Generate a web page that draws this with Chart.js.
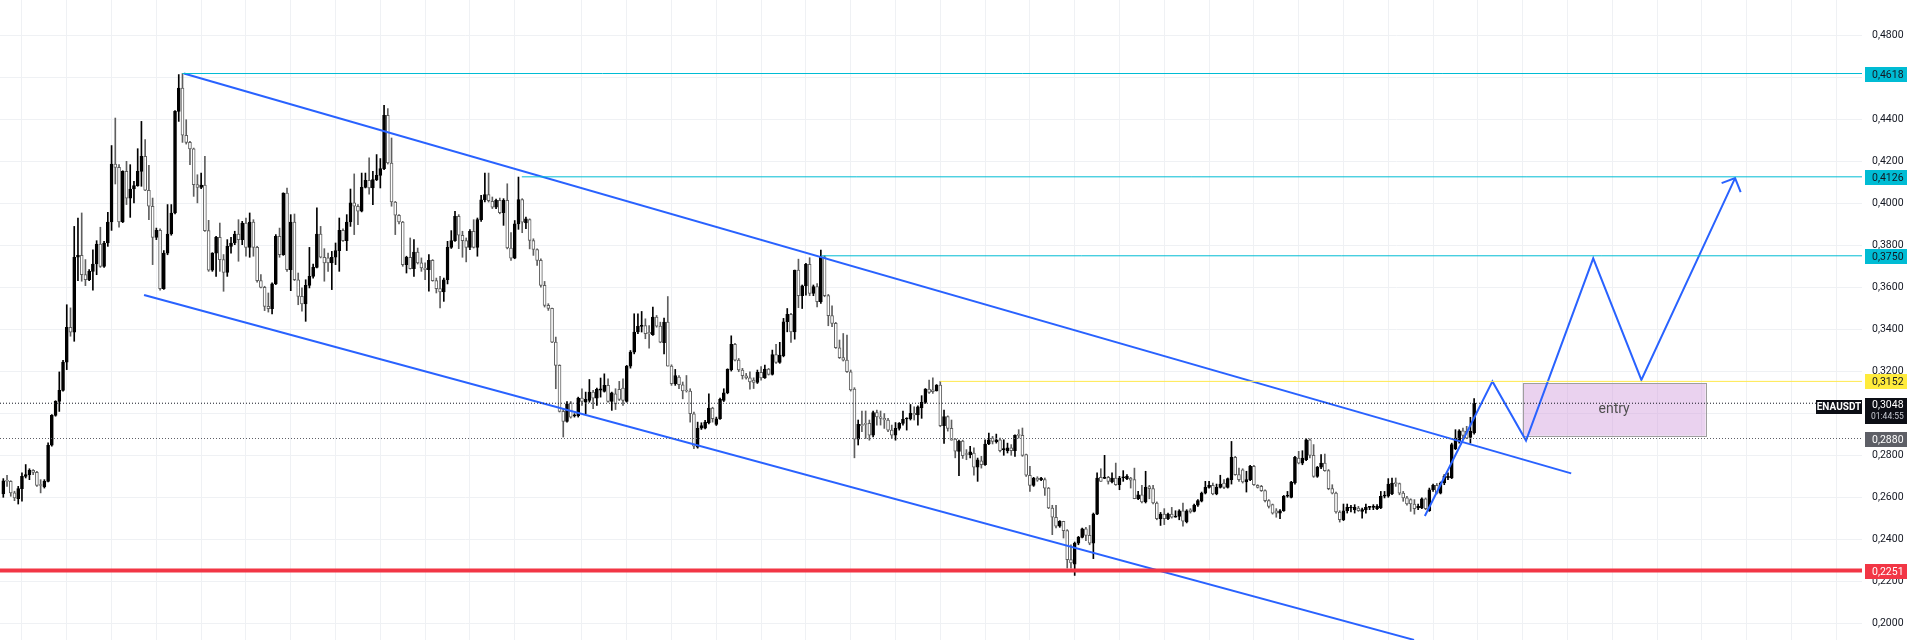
<!DOCTYPE html>
<html>
<head>
<meta charset="utf-8">
<title>ENAUSDT</title>
<script src="https://cdn.jsdelivr.net/npm/chart.js@4.4.1/dist/chart.umd.min.js"></script>
<style>
    html, body { margin: 0; padding: 0; background: #ffffff; }
    #chart { display: block; }
</style>
</head>
<body>
<canvas id="chart" width="1920" height="640"></canvas>
<script>
// Candle data (candle number 1..395, left to right)
const opens = [
    0.2616,0.2679,0.2676,0.2621,0.2594,0.2641,0.2700,0.2708,0.2729,0.2719,
    0.2660,0.2649,0.2676,0.2848,0.2990,0.3057,0.3109,0.3244,0.3409,0.3386,
    0.3743,0.3752,0.3660,0.3636,0.3676,0.3711,0.3806,0.3700,0.3811,0.3911,
    0.4187,0.4171,0.3911,0.4152,0.4025,0.4068,0.4084,0.4152,0.4224,0.4062,
    0.3986,0.3838,0.3871,0.3594,0.3763,0.3854,0.3954,0.4438,0.4549,0.4324,
    0.4290,0.4259,0.4089,0.4076,0.4087,0.3870,0.3681,0.3763,0.3838,0.3732,
    0.3671,0.3795,0.3811,0.3854,0.3827,0.3906,0.3790,0.3911,0.3790,0.3632,
    0.3600,0.3509,0.3498,0.3616,0.3843,0.3755,0.4049,0.3684,0.3911,0.3636,
    0.3557,0.3521,0.3609,0.3652,0.3695,0.3854,0.3743,0.3740,0.3716,0.3743,
    0.3775,0.3871,0.3822,0.3911,0.4002,0.3986,0.3962,0.4076,0.4109,0.4073,
    0.4113,0.4133,0.4165,0.4419,0.4192,0.4006,0.3943,0.3911,0.3708,0.3743,
    0.3689,0.3768,0.3716,0.3692,0.3684,0.3729,0.3632,0.3594,0.3578,0.3636,
    0.3790,0.3822,0.3938,0.3848,0.3822,0.3790,0.3867,0.3790,0.3922,0.4017,
    0.4041,0.4009,0.3982,0.4014,0.3955,0.4014,0.3787,0.3739,0.3902,0.4018,
    0.3907,0.3923,0.3823,0.3780,0.3728,0.3609,0.3514,0.3500,0.3339,0.3228,
    0.3009,0.2961,0.3050,0.2987,0.2987,0.3072,0.3053,0.3061,0.3101,0.3072,
    0.3110,0.3104,0.3133,0.3056,0.3093,0.3114,0.3120,0.3056,0.3225,0.3291,
    0.3387,0.3414,0.3418,0.3385,0.3374,0.3458,0.3415,0.3336,0.3434,0.3225,
    0.3141,0.3172,0.3136,0.3109,0.3106,0.2998,0.2839,0.2929,0.2929,0.2955,
    0.3025,0.2947,0.2974,0.3061,0.3098,0.3206,0.3328,0.3253,0.3206,0.3179,
    0.3169,0.3158,0.3147,0.3195,0.3169,0.3211,0.3185,0.3280,0.3242,0.3274,
    0.3436,0.3471,0.3388,0.3682,0.3560,0.3607,0.3709,0.3571,0.3603,0.3531,
    0.3745,0.3560,0.3465,0.3428,0.3312,0.3265,0.3253,0.3198,0.3115,0.2877,
    0.2947,0.2949,0.2952,0.2896,0.3004,0.2983,0.2976,0.2968,0.2920,0.2896,
    0.2928,0.2952,0.2973,0.2973,0.3000,0.2992,0.3026,0.3052,0.3115,0.3112,
    0.3106,0.3134,0.2941,0.2984,0.2928,0.2877,0.2818,0.2868,0.2806,0.2803,
    0.2811,0.2743,0.2774,0.2755,0.2854,0.2882,0.2865,0.2874,0.2827,0.2822,
    0.2835,0.2822,0.2896,0.2895,0.2803,0.2705,0.2657,0.2692,0.2684,0.2684,
    0.2644,0.2549,0.2505,0.2462,0.2485,0.2441,0.2303,0.2282,0.2382,0.2409,
    0.2450,0.2419,0.2382,0.2520,0.2695,0.2690,0.2695,0.2673,0.2692,0.2660,
    0.2693,0.2689,0.2692,0.2684,0.2593,0.2612,0.2578,0.2651,0.2641,0.2573,
    0.2498,0.2520,0.2498,0.2520,0.2505,0.2509,0.2536,0.2483,0.2540,0.2533,
    0.2562,0.2581,0.2620,0.2647,0.2657,0.2616,0.2647,0.2668,0.2647,0.2684,
    0.2790,0.2708,0.2731,0.2673,0.2684,0.2747,0.2657,0.2652,0.2632,0.2584,
    0.2565,0.2536,0.2525,0.2536,0.2605,0.2600,0.2668,0.2787,0.2763,0.2779,
    0.2874,0.2800,0.2700,0.2743,0.2763,0.2727,0.2641,0.2620,0.2530,0.2493,
    0.2536,0.2549,0.2541,0.2549,0.2533,0.2541,0.2552,0.2552,0.2546,0.2549,
    0.2605,0.2605,0.2616,0.2668,0.2665,0.2620,0.2597,0.2589,0.2568,0.2549,
    0.2549,0.2593,0.2536,0.2636,0.2657,0.2620,0.2668,0.2692,0.2692,0.2832,
    0.2866,0.2917,0.2914,0.2885,0.2906
];
const highs = [
    0.2689,0.2705,0.2679,0.2629,0.2652,0.2716,0.2756,0.2736,0.2732,0.2724,
    0.2684,0.2684,0.2859,0.2994,0.3060,0.3197,0.3252,0.3517,0.3502,0.3890,
    0.3930,0.3954,0.3732,0.3684,0.3779,0.3822,0.3886,0.3819,0.3957,0.4275,
    0.4406,0.4184,0.4155,0.4200,0.4184,0.4105,0.4260,0.4390,0.4303,0.4181,
    0.4025,0.3882,0.3879,0.3775,0.3994,0.3994,0.4441,0.4613,0.4618,0.4398,
    0.4295,0.4263,0.4136,0.4144,0.4224,0.3919,0.3765,0.3843,0.3906,0.3756,
    0.3827,0.3838,0.3867,0.3922,0.3914,0.3930,0.3954,0.3922,0.3795,0.3660,
    0.3605,0.3573,0.3621,0.3851,0.3882,0.4050,0.4073,0.3946,0.3949,0.3668,
    0.3597,0.3636,0.3790,0.3711,0.3978,0.3890,0.3784,0.3763,0.3771,0.3811,
    0.3930,0.3878,0.3946,0.4068,0.4140,0.3994,0.4144,0.4144,0.4216,0.4152,
    0.4232,0.4213,0.4467,0.4451,0.4311,0.4009,0.3946,0.3914,0.3748,0.3835,
    0.3827,0.3787,0.3740,0.3716,0.3756,0.3732,0.3644,0.3652,0.3644,0.3819,
    0.3870,0.3962,0.3946,0.3867,0.3835,0.3875,0.3922,0.3930,0.4038,0.4144,
    0.4144,0.4030,0.4020,0.4025,0.4022,0.4093,0.3860,0.3918,0.4125,0.4022,
    0.3934,0.3926,0.3831,0.3783,0.3736,0.3628,0.3522,0.3501,0.3363,0.3231,
    0.3022,0.3056,0.3056,0.2998,0.3077,0.3117,0.3101,0.3161,0.3109,0.3120,
    0.3168,0.3188,0.3164,0.3101,0.3117,0.3152,0.3164,0.3228,0.3299,0.3474,
    0.3474,0.3485,0.3450,0.3418,0.3506,0.3466,0.3434,0.3453,0.3556,0.3231,
    0.3209,0.3180,0.3149,0.3180,0.3117,0.3006,0.2958,0.2955,0.2966,0.3093,
    0.3029,0.2982,0.3072,0.3117,0.3212,0.3369,0.3333,0.3261,0.3214,0.3190,
    0.3198,0.3169,0.3206,0.3222,0.3230,0.3214,0.3301,0.3328,0.3338,0.3452,
    0.3499,0.3476,0.3682,0.3734,0.3611,0.3714,0.3741,0.3611,0.3618,0.3777,
    0.3750,0.3566,0.3512,0.3433,0.3349,0.3380,0.3372,0.3206,0.3122,0.2968,
    0.3011,0.3011,0.2968,0.3011,0.3015,0.3011,0.2999,0.2976,0.2944,0.2956,
    0.2956,0.3011,0.2979,0.3042,0.3031,0.3036,0.3084,0.3118,0.3158,0.3169,
    0.3137,0.3152,0.3015,0.2988,0.2968,0.2880,0.2872,0.2872,0.2827,0.2843,
    0.2835,0.2787,0.2795,0.2874,0.2906,0.2890,0.2901,0.2882,0.2874,0.2858,
    0.2851,0.2898,0.2922,0.2930,0.2806,0.2747,0.2695,0.2698,0.2695,0.2692,
    0.2647,0.2562,0.2562,0.2489,0.2486,0.2446,0.2374,0.2387,0.2414,0.2454,
    0.2457,0.2466,0.2525,0.2716,0.2736,0.2800,0.2700,0.2716,0.2763,0.2700,
    0.2727,0.2708,0.2695,0.2739,0.2628,0.2657,0.2724,0.2657,0.2657,0.2578,
    0.2528,0.2546,0.2525,0.2552,0.2536,0.2541,0.2573,0.2541,0.2546,0.2568,
    0.2589,0.2625,0.2676,0.2676,0.2668,0.2663,0.2705,0.2684,0.2692,0.2866,
    0.2795,0.2739,0.2736,0.2724,0.2752,0.2752,0.2660,0.2657,0.2636,0.2589,
    0.2568,0.2546,0.2541,0.2609,0.2628,0.2676,0.2795,0.2819,0.2822,0.2879,
    0.2879,0.2851,0.2747,0.2803,0.2806,0.2732,0.2660,0.2625,0.2536,0.2568,
    0.2568,0.2562,0.2565,0.2557,0.2549,0.2568,0.2557,0.2565,0.2565,0.2628,
    0.2628,0.2689,0.2692,0.2692,0.2668,0.2628,0.2605,0.2593,0.2589,0.2568,
    0.2597,0.2597,0.2644,0.2663,0.2666,0.2673,0.2708,0.2716,0.2858,0.2922,
    0.2922,0.2930,0.2938,0.2981,0.3070
];
const lows = [
    0.2600,0.2652,0.2605,0.2584,0.2568,0.2581,0.2692,0.2684,0.2708,0.2652,
    0.2621,0.2644,0.2673,0.2843,0.2986,0.3009,0.3105,0.3208,0.3367,0.3343,
    0.3632,0.3629,0.3608,0.3632,0.3586,0.3660,0.3695,0.3695,0.3795,0.3871,
    0.4092,0.3886,0.3908,0.3994,0.3933,0.4002,0.4081,0.4081,0.4060,0.3922,
    0.3708,0.3827,0.3586,0.3590,0.3755,0.3848,0.3950,0.4390,0.4290,0.4282,
    0.4184,0.4033,0.4002,0.4070,0.3866,0.3676,0.3676,0.3652,0.3676,0.3581,
    0.3652,0.3763,0.3803,0.3724,0.3803,0.3748,0.3743,0.3748,0.3625,0.3597,
    0.3489,0.3482,0.3473,0.3613,0.3743,0.3752,0.3676,0.3584,0.3632,0.3517,
    0.3486,0.3438,0.3597,0.3644,0.3692,0.3740,0.3629,0.3676,0.3589,0.3708,
    0.3676,0.3819,0.3775,0.3890,0.3851,0.3898,0.3959,0.4073,0.4044,0.3994,
    0.4108,0.4073,0.4160,0.4187,0.3986,0.3851,0.3902,0.3700,0.3668,0.3687,
    0.3652,0.3711,0.3676,0.3636,0.3581,0.3629,0.3573,0.3502,0.3533,0.3616,
    0.3785,0.3819,0.3784,0.3743,0.3721,0.3779,0.3787,0.3748,0.3914,0.4006,
    0.4006,0.3975,0.3975,0.3950,0.3895,0.3783,0.3728,0.3736,0.3876,0.3860,
    0.3879,0.3783,0.3752,0.3704,0.3601,0.3506,0.3490,0.3336,0.3117,0.3006,
    0.2887,0.2958,0.2977,0.2982,0.2982,0.3037,0.2998,0.3053,0.3022,0.3037,
    0.3077,0.3101,0.3053,0.3014,0.3018,0.3061,0.3037,0.3053,0.3215,0.3283,
    0.3379,0.3387,0.3355,0.3310,0.3371,0.3410,0.3336,0.3283,0.3225,0.3133,
    0.3133,0.3117,0.3069,0.3101,0.2958,0.2831,0.2834,0.2923,0.2926,0.2950,
    0.2958,0.2942,0.2971,0.3056,0.3093,0.3201,0.3249,0.3198,0.3163,0.3163,
    0.3115,0.3118,0.3142,0.3158,0.3166,0.3182,0.3182,0.3238,0.3238,0.3269,
    0.3388,0.3338,0.3353,0.3503,0.3499,0.3563,0.3560,0.3560,0.3507,0.3523,
    0.3555,0.3417,0.3412,0.3309,0.3261,0.3249,0.3195,0.3106,0.2788,0.2849,
    0.2912,0.2880,0.2872,0.2888,0.2944,0.2944,0.2928,0.2912,0.2880,0.2872,
    0.2920,0.2944,0.2920,0.2968,0.2968,0.2944,0.2976,0.3047,0.3095,0.3095,
    0.3106,0.2936,0.2856,0.2915,0.2872,0.2788,0.2703,0.2785,0.2779,0.2787,
    0.2705,0.2676,0.2739,0.2752,0.2851,0.2854,0.2858,0.2816,0.2800,0.2811,
    0.2800,0.2795,0.2882,0.2795,0.2700,0.2628,0.2652,0.2676,0.2679,0.2609,
    0.2546,0.2422,0.2454,0.2457,0.2406,0.2263,0.2263,0.2228,0.2374,0.2406,
    0.2393,0.2374,0.2308,0.2517,0.2676,0.2689,0.2663,0.2668,0.2657,0.2636,
    0.2676,0.2684,0.2644,0.2593,0.2589,0.2573,0.2573,0.2593,0.2568,0.2493,
    0.2466,0.2470,0.2493,0.2501,0.2505,0.2493,0.2462,0.2478,0.2525,0.2530,
    0.2557,0.2578,0.2616,0.2644,0.2612,0.2612,0.2644,0.2641,0.2644,0.2663,
    0.2705,0.2676,0.2668,0.2625,0.2679,0.2657,0.2644,0.2628,0.2578,0.2549,
    0.2520,0.2505,0.2498,0.2533,0.2600,0.2597,0.2663,0.2759,0.2755,0.2774,
    0.2787,0.2695,0.2695,0.2736,0.2724,0.2636,0.2616,0.2525,0.2482,0.2489,
    0.2525,0.2530,0.2525,0.2533,0.2501,0.2525,0.2541,0.2541,0.2541,0.2546,
    0.2597,0.2600,0.2612,0.2652,0.2612,0.2581,0.2562,0.2533,0.2520,0.2541,
    0.2546,0.2541,0.2533,0.2628,0.2616,0.2616,0.2660,0.2684,0.2689,0.2827,
    0.2858,0.2874,0.2879,0.2858,0.2901
];
const closes = [
    0.2679,0.2676,0.2621,0.2597,0.2641,0.2700,0.2708,0.2729,0.2719,0.2657,
    0.2656,0.2676,0.2848,0.2990,0.3057,0.3109,0.3244,0.3409,0.3386,0.3743,
    0.3752,0.3660,0.3636,0.3676,0.3711,0.3806,0.3700,0.3811,0.3911,0.4187,
    0.4171,0.3911,0.4152,0.4025,0.4068,0.4084,0.4152,0.4224,0.4062,0.3986,
    0.3838,0.3871,0.3594,0.3763,0.3854,0.3954,0.4438,0.4549,0.4324,0.4290,
    0.4259,0.4089,0.4076,0.4087,0.3870,0.3681,0.3763,0.3838,0.3732,0.3671,
    0.3795,0.3811,0.3854,0.3827,0.3906,0.3790,0.3911,0.3790,0.3632,0.3600,
    0.3509,0.3498,0.3616,0.3843,0.3755,0.4049,0.3684,0.3911,0.3636,0.3557,
    0.3521,0.3609,0.3652,0.3695,0.3854,0.3743,0.3716,0.3716,0.3743,0.3775,
    0.3871,0.3822,0.3911,0.4002,0.3986,0.3962,0.4076,0.4109,0.4073,0.4113,
    0.4133,0.4165,0.4419,0.4192,0.4006,0.3943,0.3911,0.3708,0.3743,0.3689,
    0.3768,0.3716,0.3692,0.3684,0.3729,0.3632,0.3594,0.3578,0.3636,0.3790,
    0.3822,0.3938,0.3848,0.3822,0.3790,0.3867,0.3790,0.3922,0.4017,0.4041,
    0.4013,0.3982,0.4014,0.3955,0.4014,0.3787,0.3739,0.3902,0.4018,0.3910,
    0.3926,0.3823,0.3780,0.3728,0.3609,0.3514,0.3500,0.3339,0.3228,0.3009,
    0.2961,0.3045,0.2982,0.2993,0.3072,0.3056,0.3066,0.3101,0.3072,0.3114,
    0.3117,0.3133,0.3056,0.3098,0.3045,0.3066,0.3061,0.3225,0.3291,0.3387,
    0.3414,0.3418,0.3379,0.3378,0.3458,0.3415,0.3339,0.3434,0.3225,0.3141,
    0.3180,0.3136,0.3106,0.3106,0.2998,0.2844,0.2929,0.2942,0.2958,0.3025,
    0.2974,0.2974,0.3066,0.3098,0.3209,0.3328,0.3253,0.3206,0.3179,0.3169,
    0.3150,0.3147,0.3195,0.3169,0.3211,0.3185,0.3280,0.3242,0.3277,0.3436,
    0.3471,0.3388,0.3682,0.3560,0.3607,0.3709,0.3571,0.3603,0.3531,0.3745,
    0.3560,0.3465,0.3428,0.3312,0.3265,0.3253,0.3198,0.3111,0.2877,0.2947,
    0.2941,0.2947,0.2896,0.3004,0.2983,0.2976,0.2968,0.2920,0.2896,0.2928,
    0.2952,0.2971,0.2976,0.3000,0.2992,0.3031,0.3052,0.3115,0.3099,0.3103,
    0.3134,0.2941,0.2984,0.2928,0.2872,0.2820,0.2868,0.2798,0.2804,0.2816,
    0.2743,0.2779,0.2755,0.2854,0.2874,0.2866,0.2874,0.2822,0.2827,0.2835,
    0.2822,0.2895,0.2895,0.2800,0.2705,0.2657,0.2692,0.2682,0.2692,0.2644,
    0.2549,0.2505,0.2462,0.2485,0.2441,0.2303,0.2287,0.2382,0.2409,0.2450,
    0.2419,0.2382,0.2520,0.2692,0.2676,0.2695,0.2676,0.2692,0.2660,0.2692,
    0.2695,0.2700,0.2682,0.2593,0.2612,0.2578,0.2647,0.2641,0.2573,0.2498,
    0.2520,0.2498,0.2520,0.2505,0.2510,0.2536,0.2486,0.2536,0.2530,0.2562,
    0.2584,0.2620,0.2647,0.2657,0.2616,0.2647,0.2663,0.2647,0.2689,0.2790,
    0.2708,0.2684,0.2673,0.2684,0.2747,0.2660,0.2647,0.2632,0.2584,0.2557,
    0.2525,0.2525,0.2536,0.2605,0.2605,0.2673,0.2790,0.2763,0.2787,0.2874,
    0.2800,0.2700,0.2743,0.2763,0.2727,0.2641,0.2620,0.2530,0.2493,0.2536,
    0.2552,0.2549,0.2552,0.2536,0.2541,0.2552,0.2552,0.2554,0.2557,0.2605,
    0.2610,0.2663,0.2668,0.2665,0.2620,0.2597,0.2568,0.2568,0.2546,0.2557,
    0.2593,0.2546,0.2636,0.2657,0.2620,0.2668,0.2700,0.2700,0.2851,0.2882,
    0.2917,0.2895,0.2882,0.2914,0.3049
];

// Axis ticks: price labels and the time grid (in candle numbers)
const priceTicks = [0.20, 0.22, 0.24, 0.26, 0.28, 0.30, 0.32, 0.34, 0.36, 0.38, 0.40, 0.42, 0.44, 0.46, 0.48];
const timeGrid = [6, 18, 30, 42, 54, 66, 78, 90, 102, 114, 126, 138,
    156, 168, 180, 192, 204, 216, 228, 240, 252, 264, 276, 288, 300, 312, 324, 336,
    348, 360, 372, 384, 396, 408, 420, 432, 444, 456, 468, 480, 492];

// Drawings, as [candle number, price]
const targetPrices = [0.4618, 0.4126, 0.3750];
const targetFrom = [49, 139.9, 220.2];
const entryLevel = 0.3152;
const entryLevelFrom = 252;
const lastPrice = 0.3048;
const markPrice = 0.2880;
const supportPrice = 0.2251;
const upperChannel = [[49.4, 0.4618], [421.0, 0.2714]];
const lowerChannel = [[38.7, 0.3563], [378.9, 0.1921]];
const projection = [[381.8, 0.2511], [399.9, 0.3152], [408.9, 0.2870], [426.9, 0.3738], [439.8, 0.3159], [464.9, 0.4120]];
const arrowHead = [[461.3, 0.4096], [464.9, 0.4120], [466.4, 0.4053]];
const entryZone = [408.0, 457.0, 0.3143, 0.2893];
const entryText = 'entry';
const symbol = 'ENAUSDT';
const countdown = '01:44:55';

const xMin = 0.116;
const xMax = 498.9;
const fontFamily = 'Roboto, "Liberation Sans", sans-serif';

const fmt = v => v.toFixed(4).replace('.', ',');

// Build one straight drawing (polyline) dataset
function segment(points, color, width, dash) {
    return {
        type: 'line',
        data: points.map(p => ({ x: p[0], y: p[1] })),
        borderColor: color,
        borderWidth: width,
        borderDash: dash || [],
        pointRadius: 0,
        fill: false,
        tension: 0,
        order: 0
    };
}

function hLine(price, from, color, width, dash) {
    return segment([[from, price], [xMax, price]], color, width, dash);
}

// Candles: wicks and bodies as floating bars
const isUp = i => closes[i] >= opens[i];
const wickData = closes.map((c, i) => ({
    x: i + 1,
    y: [Math.min(lows[i], opens[i], c), Math.max(highs[i], opens[i], c)]
}));
const bodyData = closes.map((c, i) => ({ x: i + 1, y: [opens[i], c] }));

// Right-hand price tags and the entry zone
const overlayPlugin = {
    id: 'overlay',
    beforeDatasetsDraw(chart) {
        const { ctx, scales: { x, y } } = chart;
        const left = x.getPixelForValue(entryZone[0]);
        const right = x.getPixelForValue(entryZone[1]);
        const top = y.getPixelForValue(entryZone[2]);
        const bottom = y.getPixelForValue(entryZone[3]);
        ctx.save();
        ctx.fillStyle = 'rgba(206, 147, 216, 0.42)';
        ctx.fillRect(left, top, right - left, bottom - top);
        ctx.strokeStyle = '#9e9e9e';
        ctx.lineWidth = 1;
        ctx.strokeRect(Math.round(left) + 0.5, Math.round(top) + 0.5, Math.round(right - left), Math.round(bottom - top));
        ctx.fillStyle = '#4f4f4f';
        ctx.font = '14px ' + fontFamily;
        ctx.textAlign = 'center';
        ctx.textBaseline = 'middle';
        ctx.fillText(entryText, (left + right) / 2, (top + bottom) / 2);
        ctx.restore();
    },
    afterDraw(chart) {
        const { ctx, chartArea, scales: { y } } = chart;
        const bx = chartArea.right + 3;
        const bw = 42;
        ctx.save();
        ctx.font = '10.5px ' + fontFamily;
        ctx.textAlign = 'left';
        ctx.textBaseline = 'middle';

        const tag = (price, bg, fg) => {
            const yc = y.getPixelForValue(price);
            ctx.fillStyle = bg;
            ctx.fillRect(bx, Math.round(yc - 7), bw, 15);
            ctx.fillStyle = fg;
            ctx.fillText(fmt(price), bx + 7, Math.round(yc) + 1);
        };
        targetPrices.forEach(p => tag(p, '#00bcd4', '#131722'));
        tag(entryLevel, '#ffeb3b', '#131722');
        tag(markPrice, '#5d5f66', '#ffffff');
        tag(supportPrice, '#f23645', '#ffffff');

        // Last price with countdown, plus symbol badge
        const yl = y.getPixelForValue(lastPrice);
        ctx.fillStyle = '#0c0e15';
        ctx.fillRect(bx, Math.round(yl - 5), bw, 26);
        ctx.fillStyle = '#ffffff';
        ctx.fillText(fmt(lastPrice), bx + 7, Math.round(yl) + 2);
        ctx.fillStyle = '#c8cbd3';
        ctx.font = '8.5px ' + fontFamily;
        ctx.fillText(countdown, bx + 6, Math.round(yl) + 14);

        ctx.fillStyle = '#0c0e15';
        ctx.fillRect(chartArea.right - 46, Math.round(yl - 3), 46, 14);
        ctx.fillStyle = '#ffffff';
        ctx.font = 'bold 10px ' + fontFamily;
        ctx.textAlign = 'center';
        ctx.fillText(symbol, chartArea.right - 23, Math.round(yl) + 4);
        ctx.restore();
    }
};

// Initialize Chart
function initializeChart() {
    const ctx = document.getElementById('chart').getContext('2d');
    const datasets = [
        ...targetPrices.map((p, i) => hLine(p, targetFrom[i], '#00bcd4', 1)),
        hLine(entryLevel, entryLevelFrom, '#ffe94d', 1),
        hLine(lastPrice, xMin, '#131722', 1, [1, 2]),
        hLine(markPrice, xMin, '#5d5f66', 1, [1, 2]),
        hLine(supportPrice, xMin, '#f23645', 4),
        segment(upperChannel, '#2962ff', 2),
        segment(lowerChannel, '#2962ff', 2),
        segment(projection, '#2962ff', 2),
        segment(arrowHead, '#2962ff', 2),
        {
            type: 'bar',
            data: wickData,
            backgroundColor: wickData.map((d, i) => isUp(i) ? '#000000' : '#5f5f5f'),
            barThickness: 1,
            grouped: false,
            order: 3
        },
        {
            type: 'bar',
            data: bodyData,
            backgroundColor: bodyData.map((d, i) => isUp(i) ? '#000000' : '#ffffff'),
            borderColor: bodyData.map((d, i) => isUp(i) ? '#000000' : '#5f5f5f'),
            borderWidth: 1,
            borderSkipped: false,
            barThickness: 3,
            minBarLength: 1,
            grouped: false,
            order: 2
        }
    ];

    window.priceChart = new Chart(ctx, {
        type: 'bar',
        data: { datasets },
        options: {
            responsive: false,
            animation: false,
            events: [],
            layout: { padding: 0 },
            plugins: {
                legend: { display: false },
                tooltip: { enabled: false }
            },
            scales: {
                x: {
                    type: 'linear',
                    min: xMin,
                    max: xMax,
                    offset: false,
                    afterBuildTicks: s => { s.ticks = timeGrid.map(v => ({ value: v })); },
                    afterFit: s => { s.height = 0; s.paddingLeft = 0; s.paddingRight = 0; },
                    ticks: { display: false },
                    grid: { color: '#eff1f4', drawTicks: false, offset: false },
                    border: { display: false }
                },
                y: {
                    type: 'linear',
                    position: 'right',
                    min: 0.19205,
                    max: 0.49681,
                    afterBuildTicks: s => { s.ticks = priceTicks.map(v => ({ value: v })); },
                    afterFit: s => { s.width = 58; s.paddingTop = 0; s.paddingBottom = 0; },
                    ticks: {
                        callback: v => fmt(v),
                        color: '#131722',
                        font: { family: fontFamily, size: 10.5 },
                        padding: 10,
                        autoSkip: false
                    },
                    grid: { color: '#eff1f4', drawTicks: false },
                    border: { display: false }
                }
            }
        },
        plugins: [overlayPlugin]
    });
}

document.addEventListener('DOMContentLoaded', initializeChart);
</script>
</body>
</html>
